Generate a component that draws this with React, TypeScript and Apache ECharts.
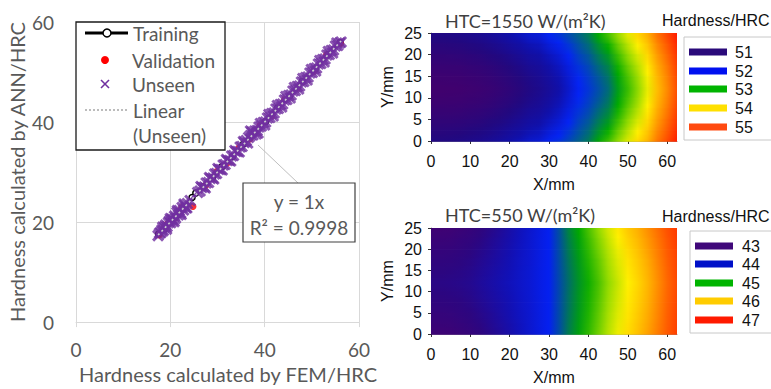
import React, { useEffect, useRef } from "react";
import * as echarts from "echarts";

// ---------- Left scatter data (FEM vs ANN hardness, HRC) ----------
const trainingPts: number[][] = [
  [17.5, 17.6], [18.7, 18.6], [20.1, 20.2], [21.4, 21.3], [22.6, 22.8], [24.6, 24.9],
  [25.4, 25.8], [27.0, 27.1], [28.9, 28.8], [31.0, 31.1], [33.2, 33.1], [35.5, 35.6],
  [37.8, 37.9], [40.2, 40.1], [42.7, 42.8], [45.3, 45.2], [48.0, 48.1], [50.7, 50.6],
  [53.4, 53.5], [56.0, 55.9],
];
const validationPts: number[][] = [
  [17.7, 17.4], [19.3, 19.6], [21.0, 20.8], [22.4, 22.9], [24.8, 23.1], [27.5, 27.3],
  [29.8, 30.1], [32.1, 31.8], [34.6, 34.9], [36.9, 36.6], [39.0, 39.3], [41.5, 41.2],
  [44.2, 44.5], [47.0, 46.8], [50.3, 50.1], [53.1, 53.4], [56.1, 55.7],
];
const unseenPts: number[][] = [
  [17.4, 17.3], [17.7, 17.8], [18.0, 17.9], [18.2, 18.4], [18.5, 18.3], [18.8, 19.0],
  [19.0, 19.4], [19.3, 19.1], [19.6, 19.9], [19.8, 20.2], [20.1, 19.9], [20.3, 20.6],
  [20.6, 20.4], [20.9, 21.2], [21.1, 20.8], [21.4, 21.9], [21.7, 21.4], [21.9, 22.3],
  [22.2, 21.8], [22.5, 22.9], [22.8, 22.4], [23.0, 23.3], [23.3, 22.9], [23.6, 23.7],
  [24.2, 24.3], [25.8, 25.9], [26.3, 26.2], [26.7, 26.9], [27.2, 27.0], [27.6, 27.8],
  [28.1, 27.9], [28.5, 28.7], [29.0, 28.8], [29.4, 29.6], [29.8, 29.7], [30.3, 30.5],
  [30.7, 30.5], [31.2, 31.4], [31.6, 31.5], [32.1, 32.3], [32.5, 32.3], [33.0, 33.2],
  [33.4, 33.3], [33.9, 34.1], [34.3, 34.1], [34.8, 35.0], [35.2, 35.1], [35.7, 35.9],
  [36.1, 36.3], [36.6, 36.9], [37.0, 37.3], [37.5, 37.4], [37.9, 38.2], [38.4, 38.3],
  [38.8, 39.0], [39.3, 39.2], [39.7, 39.9], [40.2, 40.0], [40.6, 40.8], [41.1, 40.9],
  [41.5, 41.7], [42.0, 41.8], [42.4, 42.6], [42.9, 42.7], [43.3, 43.5], [43.8, 43.6],
  [44.2, 44.4], [44.7, 44.5], [45.1, 45.3], [45.6, 45.4], [46.0, 46.2], [46.5, 46.3],
  [46.9, 47.1], [47.4, 47.2], [47.8, 48.0], [48.3, 48.1], [48.7, 48.9], [49.2, 49.0],
  [49.6, 49.8], [50.1, 49.9], [50.5, 50.7], [51.0, 50.8], [51.4, 51.6], [51.9, 51.7],
  [52.3, 52.5], [52.8, 52.6], [53.2, 53.4], [53.7, 53.5], [54.1, 54.3], [54.6, 54.4],
  [55.0, 55.2], [55.5, 55.3], [55.9, 55.8], [56.2, 56.0],
  [18.4, 19.0], [19.2, 18.6], [20.0, 20.7], [20.8, 20.1], [21.5, 22.3], [22.3, 21.5],
  [22.9, 23.6], [23.5, 22.8], [26.5, 27.1], [27.4, 26.8], [28.3, 28.9], [29.2, 28.6],
  [30.1, 30.7], [31.0, 30.4], [31.9, 32.5], [32.8, 32.2], [33.7, 34.3], [34.6, 34.0],
  [35.5, 36.1], [36.4, 35.8], [37.0, 38.2], [37.3, 38.0], [38.2, 37.6], [38.6, 37.8],
  [39.1, 39.7], [40.0, 39.4], [40.9, 41.5], [41.8, 41.2], [42.7, 43.3], [43.6, 43.0],
  [44.5, 45.1], [45.4, 44.8], [46.3, 46.9], [47.2, 46.6], [48.1, 48.7], [49.0, 48.4],
  [49.9, 50.5], [50.8, 50.2], [51.7, 52.3], [52.6, 52.0], [53.5, 54.1], [54.4, 53.8],
  [55.3, 55.8],
];
const trendPts: number[][] = [[17.4, 17.4], [56.2, 56.2]];

// ---------- Hardness maps (rows: Y = 0 .. 25 mm, columns: X = 0 .. 62.5 mm) ----------
const xMM = [0, 2.5, 5, 7.5, 10, 12.5, 15, 17.5, 20, 22.5, 25, 27.5, 30, 32.5, 35, 37.5, 40, 42.5, 45, 47.5, 50, 52.5, 55, 57.5, 60, 62.5];
const yMM = [0, 2.5, 5, 7.5, 10, 12.5, 15, 17.5, 20, 22.5, 25];

const hard1550: number[][] = [
  [51.05, 51.05, 51.07, 51.10, 51.15, 51.20, 51.28, 51.38, 51.50, 51.62, 51.75, 51.80, 52.00, 52.12, 52.28, 52.45, 52.65, 53.00, 53.25, 53.55, 53.88, 54.20, 54.50, 54.90, 55.20, 55.50],
  [50.91, 50.91, 50.93, 50.95, 51.00, 51.04, 51.11, 51.20, 51.31, 51.42, 51.55, 51.62, 51.80, 51.94, 52.12, 52.32, 52.50, 52.80, 53.04, 53.37, 53.69, 54.00, 54.33, 54.76, 55.07, 55.40],
  [50.78, 50.78, 50.79, 50.81, 50.85, 50.89, 50.96, 51.03, 51.13, 51.24, 51.37, 51.45, 51.62, 51.77, 51.98, 52.20, 52.36, 52.62, 52.85, 53.20, 53.51, 53.82, 54.18, 54.63, 54.96, 55.31],
  [50.68, 50.68, 50.69, 50.70, 50.74, 50.77, 50.83, 50.90, 50.99, 51.10, 51.23, 51.31, 51.48, 51.64, 51.86, 52.10, 52.25, 52.48, 52.69, 53.06, 53.37, 53.68, 54.05, 54.53, 54.86, 55.24],
  [50.60, 50.60, 50.61, 50.62, 50.65, 50.68, 50.73, 50.80, 50.88, 50.98, 51.11, 51.21, 51.36, 51.54, 51.77, 52.02, 52.17, 52.36, 52.57, 52.96, 53.26, 53.56, 53.95, 54.45, 54.79, 55.18],
  [50.55, 50.55, 50.56, 50.57, 50.60, 50.63, 50.68, 50.74, 50.82, 50.92, 51.05, 51.15, 51.30, 51.48, 51.72, 51.98, 52.12, 52.30, 52.50, 52.90, 53.20, 53.50, 53.90, 54.40, 54.75, 55.15],
  [50.60, 50.60, 50.61, 50.62, 50.65, 50.68, 50.73, 50.80, 50.88, 50.98, 51.11, 51.21, 51.36, 51.54, 51.77, 52.02, 52.17, 52.36, 52.57, 52.96, 53.26, 53.56, 53.95, 54.45, 54.79, 55.18],
  [50.68, 50.68, 50.69, 50.70, 50.74, 50.77, 50.83, 50.90, 50.99, 51.10, 51.23, 51.31, 51.48, 51.64, 51.86, 52.10, 52.25, 52.48, 52.69, 53.06, 53.37, 53.68, 54.05, 54.53, 54.86, 55.24],
  [50.78, 50.78, 50.79, 50.81, 50.85, 50.89, 50.96, 51.03, 51.13, 51.24, 51.37, 51.45, 51.62, 51.77, 51.98, 52.20, 52.36, 52.62, 52.85, 53.20, 53.51, 53.82, 54.18, 54.63, 54.96, 55.31],
  [50.91, 50.91, 50.93, 50.95, 51.00, 51.04, 51.11, 51.20, 51.31, 51.42, 51.55, 51.62, 51.80, 51.94, 52.12, 52.32, 52.50, 52.80, 53.04, 53.37, 53.69, 54.00, 54.33, 54.76, 55.07, 55.40],
  [51.05, 51.05, 51.07, 51.10, 51.15, 51.20, 51.28, 51.38, 51.50, 51.62, 51.75, 51.80, 52.00, 52.12, 52.28, 52.45, 52.65, 53.00, 53.25, 53.55, 53.88, 54.20, 54.50, 54.90, 55.20, 55.50],
];

const hard550: number[][] = [
  [42.70, 42.70, 42.72, 42.78, 42.85, 42.95, 43.08, 43.22, 43.38, 43.55, 43.70, 43.85, 44.00, 44.33, 44.70, 44.95, 45.17, 45.40, 45.68, 45.93, 46.17, 46.38, 46.60, 46.82, 47.04, 47.22],
  [42.78, 42.78, 42.80, 42.86, 42.92, 43.02, 43.15, 43.28, 43.42, 43.57, 43.71, 43.86, 44.00, 44.32, 44.68, 44.93, 45.14, 45.36, 45.64, 45.89, 46.13, 46.34, 46.56, 46.79, 47.02, 47.20],
  [42.86, 42.86, 42.88, 42.93, 42.99, 43.09, 43.20, 43.33, 43.46, 43.60, 43.72, 43.86, 44.00, 44.32, 44.65, 44.90, 45.11, 45.33, 45.60, 45.85, 46.09, 46.30, 46.53, 46.76, 47.00, 47.19],
  [42.93, 42.93, 42.95, 42.99, 43.05, 43.15, 43.26, 43.37, 43.49, 43.62, 43.73, 43.87, 44.00, 44.31, 44.63, 44.88, 45.09, 45.30, 45.56, 45.81, 46.06, 46.26, 46.50, 46.74, 46.98, 47.17],
  [43.00, 43.00, 43.02, 43.05, 43.11, 43.21, 43.31, 43.42, 43.52, 43.64, 43.74, 43.88, 44.00, 44.30, 44.62, 44.87, 45.07, 45.27, 45.53, 45.78, 46.03, 46.23, 46.47, 46.72, 46.96, 47.16],
  [43.05, 43.05, 43.07, 43.10, 43.15, 43.25, 43.35, 43.45, 43.55, 43.65, 43.75, 43.88, 44.00, 44.30, 44.60, 44.85, 45.05, 45.25, 45.50, 45.75, 46.00, 46.20, 46.45, 46.70, 46.95, 47.15],
  [43.00, 43.00, 43.02, 43.05, 43.11, 43.21, 43.31, 43.42, 43.52, 43.64, 43.74, 43.88, 44.00, 44.31, 44.62, 44.87, 45.08, 45.29, 45.55, 45.80, 46.05, 46.25, 46.49, 46.73, 46.97, 47.17],
  [42.93, 42.93, 42.95, 42.99, 43.05, 43.15, 43.26, 43.37, 43.49, 43.62, 43.73, 43.87, 44.00, 44.32, 44.65, 44.90, 45.12, 45.33, 45.60, 45.85, 46.10, 46.30, 46.53, 46.77, 47.00, 47.18],
  [42.86, 42.86, 42.88, 42.93, 42.99, 43.09, 43.20, 43.33, 43.46, 43.60, 43.72, 43.86, 44.00, 44.33, 44.68, 44.93, 45.16, 45.39, 45.66, 45.91, 46.16, 46.36, 46.59, 46.81, 47.03, 47.20],
  [42.78, 42.78, 42.80, 42.86, 42.92, 43.02, 43.15, 43.28, 43.42, 43.57, 43.71, 43.86, 44.00, 44.34, 44.71, 44.96, 45.20, 45.44, 45.73, 45.98, 46.23, 46.43, 46.64, 46.85, 47.06, 47.23],
  [42.70, 42.70, 42.72, 42.78, 42.85, 42.95, 43.08, 43.22, 43.38, 43.55, 43.70, 43.85, 44.00, 44.35, 44.75, 45.00, 45.25, 45.50, 45.80, 46.05, 46.30, 46.50, 46.70, 46.90, 47.10, 47.25],
];

const ramp1550 = ["#44006c", "#22087f", "#1010aa", "#0424f4", "#006a7a", "#00aa00", "#8cd800", "#fff000", "#ffb000", "#ff6400", "#ff1c00"];
const ramp550 = ["#4a006c", "#2c0680", "#1210b4", "#0420f0", "#006080", "#00a800", "#90da00", "#fff000", "#ffb000", "#ff6000", "#ff1400"];

const legend1550Labels = ["51", "52", "53", "54", "55"];
const legend1550Colors = ["#2a0a7a", "#0010f0", "#00b400", "#ffe000", "#ff4a10"];
const legend550Labels = ["43", "44", "45", "46", "47"];
const legend550Colors = ["#40087a", "#0010c8", "#00b400", "#ffcc00", "#ff1a00"];

const X_MAX = 62.5;
const Y_MAX = 25;
const SUB = 8; // shading sub-strips between two grid rows

const hexToRgb = (h: string) => [parseInt(h.slice(1, 3), 16), parseInt(h.slice(3, 5), 16), parseInt(h.slice(5, 7), 16)];
const colorOf = (v: number, min: number, max: number, ramp: string[]) => {
  const t = Math.max(0, Math.min(1, (v - min) / (max - min))) * (ramp.length - 1);
  const i = Math.min(ramp.length - 2, Math.floor(t));
  const f = t - i;
  const a = hexToRgb(ramp[i]);
  const b = hexToRgb(ramp[i + 1]);
  const c = a.map((av, k) => Math.round(av + (b[k] - av) * f));
  return `rgb(${c[0]},${c[1]},${c[2]})`;
};

// each data item: [y, value at xMM[0], value at xMM[1], ...]
const toRows = (grid: number[][]) => grid.map((row, j) => [yMM[j], ...row]);

// smooth shading of the band between grid row j and row j+1
const makeBandRenderer = (grid: number[][], min: number, max: number, ramp: string[]) => (params: any, api: any) => {
  const j = params.dataIndex;
  if (j >= grid.length - 1) return { type: "group", children: [] };
  const ya = api.value(0);
  const yb = yMM[j + 1];
  const bottom = api.coord([0, ya])[1];
  const children: any[] = [];
  for (let k = 0; k < SUB; k++) {
    const yHi = ya + ((yb - ya) * (k + 1)) / SUB;
    const fm = (k + 0.5) / SUB;
    const p0 = api.coord([0, yHi]);
    const p1 = api.coord([X_MAX, yHi]);
    const stops = xMM.map((x, i) => ({
      offset: x / X_MAX,
      color: colorOf(api.value(i + 1) * (1 - fm) + grid[j + 1][i] * fm, min, max, ramp),
    }));
    // each strip reaches down to the band's bottom; later strips paint over -> no seams
    children.push({
      type: "rect",
      z2: k,
      shape: { x: p0[0], y: p0[1], width: p1[0] - p0[0], height: Math.min(bottom - p0[1], 3) + 0.5 },
      style: { fill: new echarts.graphic.LinearGradient(0, 0, 1, 0, stops) },
    });
  }
  return { type: "group", children };
};

const GREY = "#595959";
const LATO = "Lato, 'Open Sans', sans-serif";
const ARIAL = "'Liberation Sans', Arial, sans-serif";

const heatXAxis = (gridIndex: number, gap: number) => ({
  gridIndex,
  type: "value",
  min: 0,
  max: X_MAX,
  interval: 10,
  name: "X/mm",
  nameLocation: "middle",
  nameGap: gap,
  nameTextStyle: { color: "#111", fontSize: 16, fontFamily: ARIAL },
  axisLine: { show: true, lineStyle: { color: "#999" } },
  axisTick: { show: true, length: 3, lineStyle: { color: "#333" } },
  splitLine: { show: false },
  axisLabel: {
    color: "#111",
    fontSize: 16,
    fontFamily: ARIAL,
    margin: 12,
    showMaxLabel: false,
    formatter: (v: number) => (v % 10 === 0 ? String(v) : ""),
  },
});
const heatYAxis = (gridIndex: number) => ({
  gridIndex,
  type: "value",
  min: 0,
  max: Y_MAX,
  interval: 5,
  name: "Y/mm",
  nameLocation: "middle",
  nameGap: 36,
  nameTextStyle: { color: "#111", fontSize: 16, fontFamily: ARIAL },
  axisLine: { show: true, lineStyle: { color: "#999" } },
  axisTick: { show: true, length: 3, lineStyle: { color: "#333" } },
  splitLine: { show: false },
  axisLabel: { color: "#111", fontSize: 16, fontFamily: ARIAL, margin: 9 },
});

const heatLegend = (
  boxX: number, boxY: number, boxH: number, rowY: number[], swX: number, labX: number,
  labels: string[], colors: string[], titleY: number
) => {
  const els: any[] = [
    { type: "rect", z: 100, shape: { x: boxX, y: boxY, width: 120, height: boxH }, style: { fill: "#fff", stroke: "#c8c8c8", lineWidth: 1 } },
    { type: "text", z: 101, x: 662, y: titleY, style: { text: "Hardness/HRC", fill: "#111", fontSize: 16, fontFamily: ARIAL, align: "left", verticalAlign: "middle" } },
  ];
  labels.forEach((lab, i) => {
    els.push({ type: "rect", z: 101, shape: { x: swX, y: rowY[i] - 3.5, width: 38, height: 7 }, style: { fill: colors[i] } });
    els.push({ type: "text", z: 101, x: labX, y: rowY[i], style: { text: lab, fill: "#111", fontSize: 16, fontFamily: ARIAL, align: "left", verticalAlign: "middle" } });
  });
  return els;
};

export default function App() {
  const ref = useRef<HTMLDivElement>(null);
  useEffect(() => {
    document.body.style.margin = "0";
    if (!ref.current) return;
    const chart = echarts.init(ref.current, undefined, { renderer: "svg" });
    const legendText = (text: string, x: number, y: number) => ({
      type: "text", z: 101, x, y,
      style: { text, fill: GREY, fontSize: 19, fontFamily: LATO, align: "left", verticalAlign: "middle" },
    });
    const option: any = {
      animation: false,
      backgroundColor: "#fff",
      title: [
        { text: "HTC=1550 W/(m²K)", left: 440, top: 7, textStyle: { color: "#404040", fontSize: 18, fontWeight: "normal", fontFamily: LATO } },
        { text: "HTC=550 W/(m²K)", left: 440, top: 201, textStyle: { color: "#404040", fontSize: 18, fontWeight: "normal", fontFamily: LATO } },
      ],
      grid: [
        { left: 76, top: 22, width: 283, height: 305 },
        { left: 431, top: 33, width: 246, height: 108 },
        { left: 431, top: 228, width: 246, height: 106 },
      ],
      xAxis: [
        {
          gridIndex: 0, type: "value", min: 0, max: 60, interval: 20,
          name: "Hardness calculated by FEM/HRC", nameLocation: "middle", nameGap: 41,
          nameTextStyle: { color: GREY, fontSize: 20, fontFamily: LATO, padding: [0, 0, 0, 21] },
          axisLine: { show: true, lineStyle: { color: "#d9d9d9" } },
          axisTick: { show: true, length: 5, lineStyle: { color: "#d9d9d9" } },
          splitLine: { show: true, lineStyle: { color: "#d9d9d9" } },
          axisLabel: { color: GREY, fontSize: 19, fontFamily: LATO, margin: 18 },
        },
        heatXAxis(1, 35),
        heatXAxis(2, 35),
      ],
      yAxis: [
        {
          gridIndex: 0, type: "value", min: 0, max: 60, interval: 20,
          name: "Hardness calculated by ANN/HRC", nameLocation: "middle", nameGap: 49,
          nameTextStyle: { color: GREY, fontSize: 20, fontFamily: LATO },
          axisLine: { show: true, lineStyle: { color: "#d9d9d9" } },
          axisTick: { show: false },
          splitLine: { show: true, lineStyle: { color: "#d9d9d9" } },
          axisLabel: { color: GREY, fontSize: 19, fontFamily: LATO, margin: 22 },
        },
        heatYAxis(1),
        heatYAxis(2),
      ],
      series: [
        {
          name: "Training", type: "line", xAxisIndex: 0, yAxisIndex: 0, data: trainingPts, z: 2,
          symbol: "circle", symbolSize: 6, showSymbol: true,
          lineStyle: { color: "#000", width: 2.5 },
          itemStyle: { color: "#fff", borderColor: "#000", borderWidth: 1.5 },
        },
        {
          name: "Validation", type: "scatter", xAxisIndex: 0, yAxisIndex: 0, data: validationPts, z: 3,
          symbol: "circle", symbolSize: 7, itemStyle: { color: "#ff0000" },
        },
        {
          name: "Unseen", type: "scatter", xAxisIndex: 0, yAxisIndex: 0, data: unseenPts, z: 4,
          symbol: "path://M0,0L10,10M10,0L0,10", symbolSize: 10,
          itemStyle: { color: "#7030a0", borderColor: "#7030a0", borderWidth: 3 },
        },
        {
          name: "Linear (Unseen)", type: "line", xAxisIndex: 0, yAxisIndex: 0, data: trendPts, z: 5,
          showSymbol: false, symbol: "none",
          lineStyle: { color: "#cfcfcf", width: 1.6, type: [2, 3] },
        },
        {
          name: "HTC=1550", type: "custom", xAxisIndex: 1, yAxisIndex: 1, data: toRows(hard1550),
          encode: { y: 0 }, renderItem: makeBandRenderer(hard1550, 50.5, 55.5, ramp1550), z: 2,
        },
        {
          name: "HTC=550", type: "custom", xAxisIndex: 2, yAxisIndex: 2, data: toRows(hard550),
          encode: { y: 0 }, renderItem: makeBandRenderer(hard550, 42.5, 47.5, ramp550), z: 2,
        },
      ],
      graphic: {
        elements: [
          // left legend
          { type: "rect", z: 100, shape: { x: 76, y: 22, width: 149, height: 128 }, style: { fill: "#fff", stroke: "#1a1a1a", lineWidth: 1.3 } },
          { type: "line", z: 101, shape: { x1: 85, y1: 33, x2: 128, y2: 33 }, style: { stroke: "#000", lineWidth: 3 } },
          { type: "circle", z: 102, shape: { cx: 107, cy: 33, r: 4 }, style: { fill: "#fff", stroke: "#000", lineWidth: 1.5 } },
          legendText("Training", 133, 33),
          { type: "circle", z: 101, shape: { cx: 105, cy: 60, r: 4 }, style: { fill: "#ff0000" } },
          legendText("Validation", 132, 60),
          { type: "line", z: 101, shape: { x1: 101, y1: 80, x2: 109, y2: 88 }, style: { stroke: "#7030a0", lineWidth: 1.6 } },
          { type: "line", z: 101, shape: { x1: 109, y1: 80, x2: 101, y2: 88 }, style: { stroke: "#7030a0", lineWidth: 1.6 } },
          legendText("Unseen", 132, 84),
          { type: "line", z: 101, shape: { x1: 85, y1: 110, x2: 127, y2: 110 }, style: { stroke: "#a6a6a6", lineWidth: 1.5, lineDash: [2, 2] } },
          legendText("Linear", 133, 110),
          legendText("(Unseen)", 133, 135),
          // trendline annotation
          { type: "line", z: 100, shape: { x1: 298, y1: 183, x2: 258, y2: 145 }, style: { stroke: "#bfbfbf", lineWidth: 1 } },
          { type: "rect", z: 100, shape: { x: 243, y: 183, width: 112, height: 59 }, style: { fill: "#fff", stroke: "#404040", lineWidth: 1.2 } },
          { type: "text", z: 101, x: 299, y: 201, style: { text: "y = 1x", fill: GREY, fontSize: 19, fontFamily: LATO, align: "center", verticalAlign: "middle" } },
          { type: "text", z: 101, x: 299, y: 227, style: { text: "R² = 0.9998", fill: GREY, fontSize: 19, fontFamily: LATO, align: "center", verticalAlign: "middle" } },
          // right legends
          ...heatLegend(684, 37, 103, [52, 71, 89, 108, 127], 689, 735, legend1550Labels, legend1550Colors, 20),
          ...heatLegend(690, 231, 102, [246, 264, 283, 301, 320], 695, 742, legend550Labels, legend550Colors, 216),
        ],
      },
    };
    chart.setOption(option);
    return () => chart.dispose();
  }, []);
  return <div ref={ref} style={{ width: 771, height: 389 }} />;
}
